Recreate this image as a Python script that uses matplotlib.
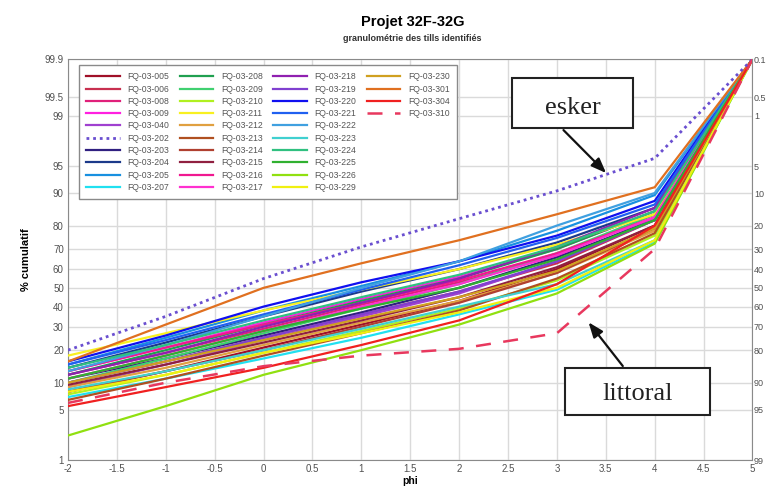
import numpy as np
import matplotlib
matplotlib.use("Agg")
import matplotlib.pyplot as plt
from matplotlib.patches import Rectangle
from matplotlib.lines import Line2D
from statistics import NormalDist

plt.rcParams['font.family'] = ['Liberation Sans', 'DejaVu Sans']

# phi classes
phi = [-2, -1, 0, 1, 2, 3, 4, 5]

# % cumulatif per sample (at phi -2 .. 5)
names = ["FQ-03-005", "FQ-03-006", "FQ-03-008", "FQ-03-009", "FQ-03-040",
         "FQ-03-202", "FQ-03-203", "FQ-03-204", "FQ-03-205", "FQ-03-207",
         "FQ-03-208", "FQ-03-209", "FQ-03-210", "FQ-03-211", "FQ-03-212",
         "FQ-03-213", "FQ-03-214", "FQ-03-215", "FQ-03-216", "FQ-03-217",
         "FQ-03-218", "FQ-03-219", "FQ-03-220", "FQ-03-221", "FQ-03-222",
         "FQ-03-223", "FQ-03-224", "FQ-03-225", "FQ-03-226", "FQ-03-229",
         "FQ-03-230", "FQ-03-301", "FQ-03-304", "FQ-03-310"]

values = [
    [8, 13, 21, 31, 43, 60, 80, 99.9],
    [10, 16, 25, 36, 48, 63, 82, 99.9],
    [12, 19, 29, 41, 53, 67, 84, 99.9],
    [13, 21, 32, 44, 56, 70, 85, 99.9],
    [9, 15, 24, 35, 47, 64, 83, 99.9],
    [20, 35, 55, 71, 82.5, 90.5, 96, 99.9],
    [11, 17, 26, 37, 50, 66, 82, 99.9],
    [14, 23, 35, 48, 60, 73, 86, 99.9],
    [15, 25, 38, 51, 64, 78, 89.5, 99.9],
    [7, 11, 17, 25, 36, 49, 73, 99.9],
    [12, 20, 31, 43, 55, 70, 85, 99.9],
    [10, 17, 27, 39, 52, 68, 84, 99.9],
    [7.5, 12, 19, 28, 39, 54, 76, 99.9],
    [18, 27, 38, 49, 60, 72, 84, 99.9],
    [9, 14, 22, 32, 43, 58, 78, 99.9],
    [6.5, 11, 18, 27, 38, 55, 77, 99.9],
    [8, 13, 20, 30, 42, 58, 79, 99.9],
    [9.5, 15, 23, 33, 45, 61, 80, 99.9],
    [13, 21, 31, 42, 54, 68, 83, 99.9],
    [11, 18, 28, 40, 52, 67, 83, 99.9],
    [12, 19, 30, 42, 55, 71, 86, 99.9],
    [10, 16, 25, 36, 48, 64, 82, 99.9],
    [16, 26, 40, 53, 64, 76, 88, 99.9],
    [15, 24, 36, 49, 62, 75, 87, 99.9],
    [13, 22, 35, 50, 64, 80, 90, 99.9],
    [8.5, 13, 20, 29, 40, 52, 74, 99.9],
    [14, 22, 33, 45, 57, 71, 85, 99.9],
    [11, 18, 28, 39, 50, 65, 82, 99.9],
    [2.3, 5.5, 12, 20, 31, 47, 72.5, 99.9],
    [8, 12, 19, 27, 37, 50, 74, 99.9],
    [10, 16, 24, 34, 45, 59, 79, 99.9],
    [16, 31, 50, 63, 74, 84, 91.3, 99.9],
    [5.5, 9, 14, 22, 33, 52, 80, 99.9],
    [6, 10, 14.5, 18, 20.5, 27, 70, 99.9],
]

colors = ["#a01028", "#c83050", "#e0207a", "#ff20e0", "#a040d0",
          "#6a4fd0", "#302080", "#1c3a8a", "#1890e0", "#20e0f0",
          "#20a050", "#40d070", "#b0f020", "#f8f020", "#e0a040",
          "#b05020", "#b04030", "#902040", "#f01890", "#ff30d0",
          "#9020b0", "#8040d0", "#1010f0", "#2060f0", "#40a0e0",
          "#40d0d0", "#30c080", "#30b030", "#90e010", "#f0f010",
          "#d0a020", "#e07020", "#f02020", "#e8385e"]

left_ticks = [1, 5, 10, 20, 30, 40, 50, 60, 70, 80, 90, 95, 99, 99.5, 99.9]
phi_ticks = [-2, -1.5, -1, -0.5, 0, 0.5, 1, 1.5, 2, 2.5, 3, 3.5, 4, 4.5, 5]

_nd = NormalDist()
_fwd = np.vectorize(lambda v: _nd.inv_cdf(v / 100.0), otypes=[float])
_inv = np.vectorize(lambda v: _nd.cdf(v) * 100.0, otypes=[float])


def prob_fwd(p):
    p = np.clip(np.asarray(p, float), 1e-6, 100 - 1e-6)
    return _fwd(p)


def prob_inv(z):
    return _inv(np.asarray(z, float))


def fmt(v):
    return ("%g" % v)


fig = plt.figure(figsize=(7.71, 4.93), dpi=100)
ax = fig.add_axes([0.0882, 0.0669, 0.8878, 0.8131])
ax.set_yscale('function', functions=(prob_fwd, prob_inv))

handles = []
for name, vals, c in zip(names, values, colors):
    if name == "FQ-03-202":
        h, = ax.plot(phi, vals, color=c, lw=2.0, ls=(0, (1, 1.4)), label=name, zorder=4)
    elif name == "FQ-03-310":
        h, = ax.plot(phi, vals, color=c, lw=1.8, ls=(0, (6, 5)), label=name, zorder=4)
    else:
        h, = ax.plot(phi, vals, color=c, lw=1.6, label=name, zorder=3)
    handles.append(h)

ax.set_xlim(-2, 5)
ax.set_ylim(1, 99.9)
ax.set_xticks(phi_ticks)
ax.set_xticklabels([fmt(v) for v in phi_ticks])
ax.set_yticks(left_ticks)
ax.set_yticklabels([fmt(v) for v in left_ticks])
ax.minorticks_off()
ax.tick_params(length=0, labelsize=7, labelcolor="#505050", pad=3)
ax.grid(True, color="#dadada", lw=1)
ax.set_axisbelow(True)
for s in ax.spines.values():
    s.set_color("#8a8a8a")

ax2 = ax.twinx()
ax2.set_yscale('function', functions=(prob_fwd, prob_inv))
ax2.set_ylim(1, 99.9)
ax2.set_yticks(left_ticks)
ax2.set_yticklabels([fmt(round(100 - v, 1)) for v in left_ticks])
ax2.minorticks_off()
ax2.tick_params(length=0, labelsize=6.5, labelcolor="#505050", pad=1)
for s in ax2.spines.values():
    s.set_visible(False)

ax.set_xlabel("phi", fontsize=7.5, fontweight="bold", labelpad=1)
ax.set_ylabel("% cumulatif", fontsize=8, fontweight="bold", labelpad=10)

fig.text(0.535, 0.955, "Projet 32F-32G", ha="center", va="center",
         fontsize=10.5, fontweight="bold")
fig.text(0.535, 0.922, "granulométrie des tills identifiés", ha="center",
         va="center", fontsize=6.5, fontweight="bold", color="#333333")

# pad the last legend column so the columns hold 10, 10, 10, 4 entries
blank = [Line2D([], [], alpha=0) for _ in range(6)]
leg = ax.legend(handles + blank, names + [""] * 6, loc="upper left",
                bbox_to_anchor=(0.0102, 0.995), ncol=4,
                fontsize=6.2, frameon=True, fancybox=False, framealpha=1,
                edgecolor="#8a8a8a", handlelength=3.9, handletextpad=0.9,
                columnspacing=1.2, labelspacing=0.38, borderpad=0.8)
for t in leg.get_texts():
    t.set_color("#555555")
leg.set_zorder(6)

# annotation boxes
ax.add_patch(Rectangle((0.648, 0.828), 0.178, 0.125, transform=ax.transAxes,
                       facecolor="white", edgecolor="#222222", lw=1.5, zorder=7))
ax.text(0.737, 0.878, "esker", transform=ax.transAxes, ha="center", va="center",
        fontsize=19, family="Liberation Serif", color="#222222", zorder=8)
ax.annotate("", xy=(0.789, 0.711), xytext=(0.721, 0.828),
            xycoords="axes fraction", textcoords="axes fraction",
            arrowprops=dict(arrowstyle="-|>,head_length=0.9,head_width=0.35",
                            color="#111111", lw=1.6), zorder=8)

ax.add_patch(Rectangle((0.726, 0.112), 0.212, 0.117, transform=ax.transAxes,
                       facecolor="white", edgecolor="#222222", lw=1.5, zorder=7))
ax.text(0.832, 0.165, "littoral", transform=ax.transAxes, ha="center",
        va="center", fontsize=19, family="Liberation Serif", color="#222222",
        zorder=8)
ax.annotate("", xy=(0.758, 0.349), xytext=(0.813, 0.229),
            xycoords="axes fraction", textcoords="axes fraction",
            arrowprops=dict(arrowstyle="-|>,head_length=0.9,head_width=0.35",
                            color="#111111", lw=1.6), zorder=8)

fig.savefig("out.png", dpi=100)
